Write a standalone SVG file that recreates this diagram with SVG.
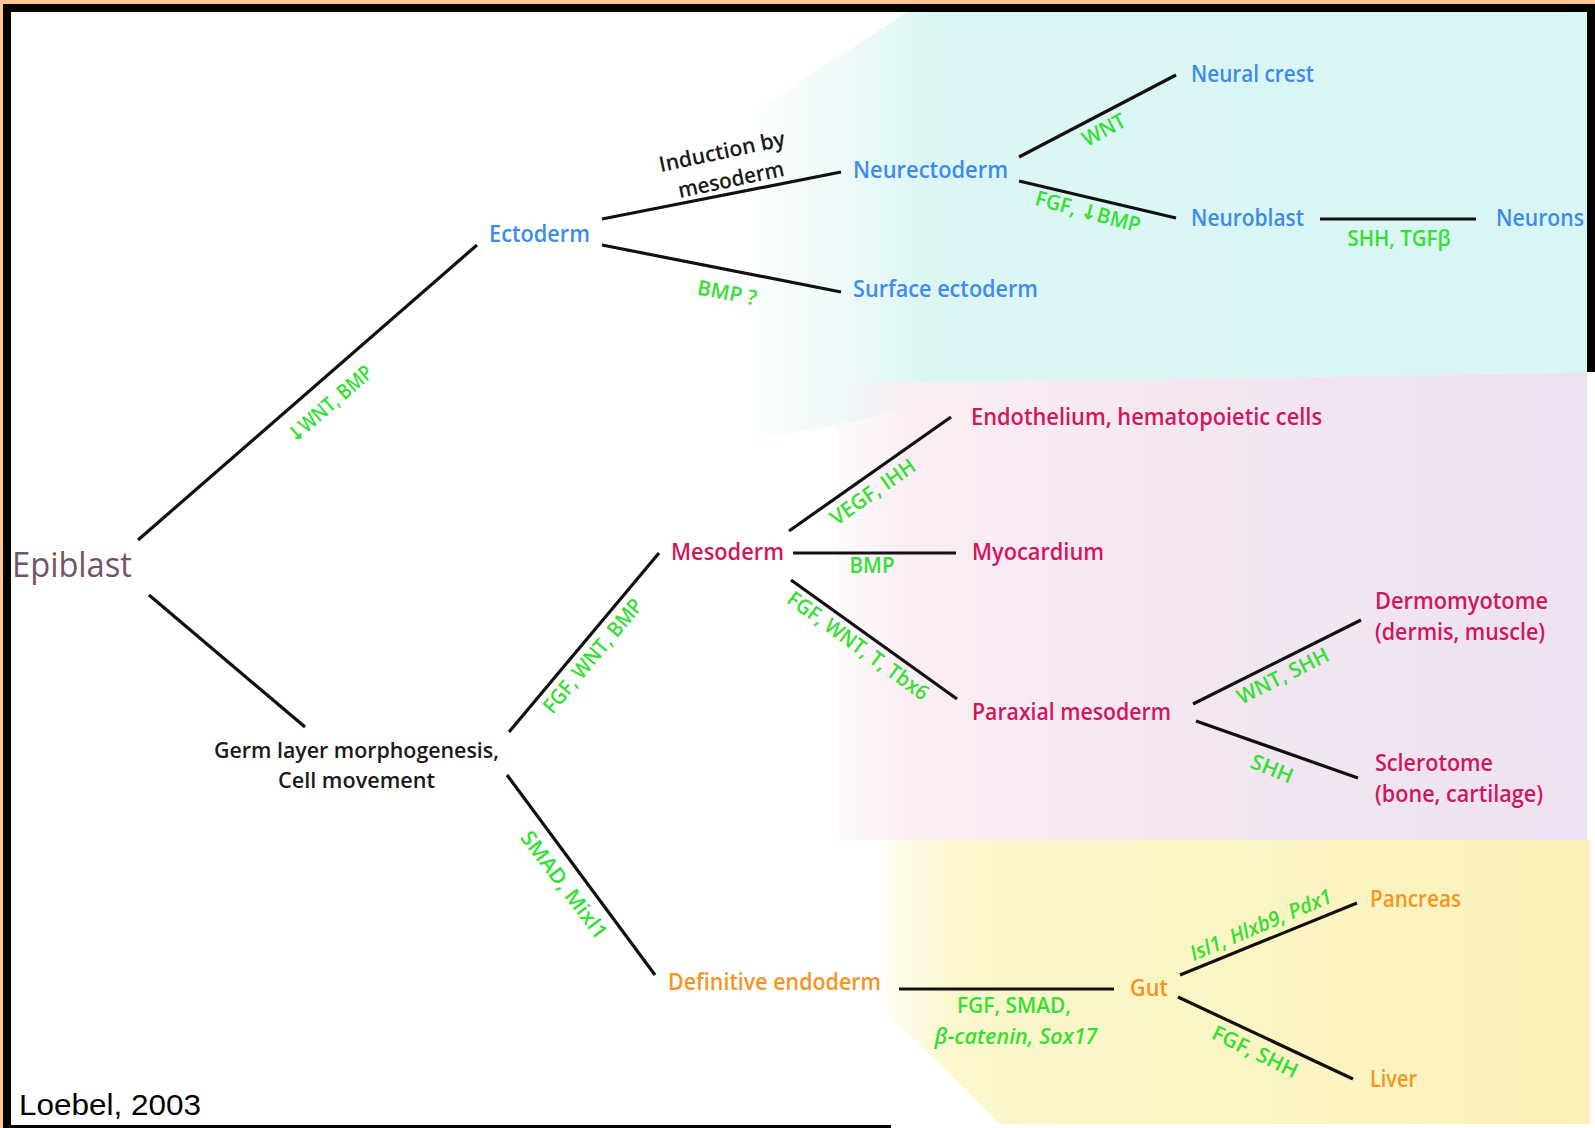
<svg xmlns="http://www.w3.org/2000/svg" width="1595" height="1128" viewBox="0 0 1595 1128">
<style>
text{font-family:"Open Sans","Noto Sans","DejaVu Sans",sans-serif;font-size:23px;font-weight:600}
.b{fill:#3D8BEB}
.m{fill:#D0175D}
.o{fill:#F7941E}
.k{fill:#1a1a1a;font-size:21.5px}
.g{fill:#33E033;font-size:21px}
.i{font-style:italic}
.c line{stroke:#111;stroke-width:3.2;fill:none}
</style>
<defs>
<linearGradient id="gc" gradientUnits="userSpaceOnUse" x1="757" y1="0" x2="1590" y2="0">
<stop offset="0" stop-color="#E6F8F6" stop-opacity="0.15"/>
<stop offset="0.2" stop-color="#DCF6F4" stop-opacity="1"/>
<stop offset="1" stop-color="#D8F6F5"/>
</linearGradient>
<linearGradient id="gp" gradientUnits="userSpaceOnUse" x1="830" y1="0" x2="1590" y2="0">
<stop offset="0" stop-color="#FAEEF4" stop-opacity="0.15"/>
<stop offset="0.1" stop-color="#FAEEF4" stop-opacity="1"/>
<stop offset="0.38" stop-color="#F7E8F1"/>
<stop offset="0.55" stop-color="#F2E6F1"/>
<stop offset="1" stop-color="#EDE2F1"/>
</linearGradient>
<linearGradient id="gy" gradientUnits="userSpaceOnUse" x1="870" y1="0" x2="1590" y2="0">
<stop offset="0" stop-color="#FCF8D4" stop-opacity="0.15"/>
<stop offset="0.12" stop-color="#FCF7CC" stop-opacity="1"/>
<stop offset="1" stop-color="#FAF2BA"/>
</linearGradient>
</defs>
<rect x="0" y="0" width="1595" height="1128" fill="#fff"/>
<!-- background regions -->
<polygon points="907,12 1587,12 1587,372 1000,382 860,420 757,440 757,110" fill="url(#gc)"/>
<polygon points="835,382 1000,382 1587,372 1587,840 835,840" fill="url(#gp)"/>
<polygon points="884,840 1590,840 1590,1124 1000,1124 884,1010" fill="url(#gy)"/>
<!-- frame -->
<rect x="0" y="0" width="1595" height="4" fill="#FFC890"/>
<rect x="0" y="0" width="3" height="1128" fill="#FFC890"/>
<rect x="3" y="4" width="1592" height="8" fill="#000"/>
<rect x="3" y="4" width="8" height="1124" fill="#000"/>
<rect x="11" y="1125" width="880" height="3" fill="#000"/>
<rect x="1587" y="4" width="8" height="368" fill="#000"/>

<g class="c" id="connectors">
<line x1="138" y1="540" x2="477" y2="245"/>
<line x1="149" y1="595" x2="305" y2="727"/>
<line x1="602" y1="219" x2="841" y2="172"/>
<line x1="602" y1="245" x2="841" y2="292"/>
<line x1="1019" y1="157" x2="1176" y2="75"/>
<line x1="1019" y1="181" x2="1176" y2="218"/>
<line x1="1320" y1="219" x2="1476" y2="219"/>
<line x1="509" y1="732" x2="659" y2="553"/>
<line x1="507" y1="775" x2="655" y2="975"/>
<line x1="789" y1="531" x2="951" y2="417"/>
<line x1="793" y1="553" x2="956" y2="553"/>
<line x1="791" y1="580" x2="957" y2="699"/>
<line x1="1193" y1="704" x2="1361" y2="620"/>
<line x1="1196" y1="721" x2="1358" y2="778"/>
<line x1="899" y1="989" x2="1114" y2="989"/>
<line x1="1180" y1="975" x2="1357" y2="903"/>
<line x1="1178" y1="997" x2="1353" y2="1079"/>
</g>

<g id="epiblast"><text x="12" y="577" style="font-size:35px;font-weight:400;fill:#735468" textLength="120" lengthAdjust="spacingAndGlyphs">Epiblast</text></g>
<g id="ectoderm"><text class="b" x="489" y="242" textLength="101" lengthAdjust="spacingAndGlyphs">Ectoderm</text></g>
<g id="neurectoderm"><text class="b" x="853" y="178" textLength="155" lengthAdjust="spacingAndGlyphs">Neurectoderm</text></g>
<g id="surface-ectoderm"><text class="b" x="853" y="297" textLength="185" lengthAdjust="spacingAndGlyphs">Surface ectoderm</text></g>
<g id="neural-crest"><text class="b" x="1191" y="82" textLength="123" lengthAdjust="spacingAndGlyphs">Neural crest</text></g>
<g id="neuroblast"><text class="b" x="1191" y="226" textLength="113" lengthAdjust="spacingAndGlyphs">Neuroblast</text></g>
<g id="neurons"><text class="b" x="1496" y="226" textLength="88" lengthAdjust="spacingAndGlyphs">Neurons</text></g>
<g id="germ"><text class="k" x="214" y="758" textLength="285" lengthAdjust="spacingAndGlyphs">Germ layer morphogenesis,</text><text class="k" x="278" y="788" textLength="157" lengthAdjust="spacingAndGlyphs">Cell movement</text></g>
<g id="mesoderm"><text class="m" x="671" y="560" textLength="113" lengthAdjust="spacingAndGlyphs">Mesoderm</text></g>
<g id="endothelium"><text class="m" x="971" y="425" textLength="351" lengthAdjust="spacingAndGlyphs">Endothelium, hematopoietic cells</text></g>
<g id="myocardium"><text class="m" x="972" y="560" textLength="132" lengthAdjust="spacingAndGlyphs">Myocardium</text></g>
<g id="paraxial"><text class="m" x="972" y="720" textLength="199" lengthAdjust="spacingAndGlyphs">Paraxial mesoderm</text></g>
<g id="dermomyotome"><text class="m" x="1375" y="609" textLength="173" lengthAdjust="spacingAndGlyphs">Dermomyotome</text><text class="m" x="1375" y="640" textLength="170" lengthAdjust="spacingAndGlyphs">(dermis, muscle)</text></g>
<g id="sclerotome"><text class="m" x="1375" y="771" textLength="118" lengthAdjust="spacingAndGlyphs">Sclerotome</text><text class="m" x="1375" y="802" textLength="168" lengthAdjust="spacingAndGlyphs">(bone, cartilage)</text></g>
<g id="definitive-endoderm"><text class="o" x="668" y="990" textLength="213" lengthAdjust="spacingAndGlyphs">Definitive endoderm</text></g>
<g id="gut"><text class="o" x="1130" y="996" textLength="38" lengthAdjust="spacingAndGlyphs">Gut</text></g>
<g id="pancreas"><text class="o" x="1370" y="907" textLength="91" lengthAdjust="spacingAndGlyphs">Pancreas</text></g>
<g id="liver"><text class="o" x="1370" y="1087" textLength="47" lengthAdjust="spacingAndGlyphs">Liver</text></g>

<g id="labels" text-anchor="middle">
<text class="k" transform="translate(722,152) rotate(-12)" y="7" textLength="128" lengthAdjust="spacingAndGlyphs">Induction by</text>
<text class="k" transform="translate(731,180) rotate(-12)" y="7" textLength="108" lengthAdjust="spacingAndGlyphs">mesoderm</text>
<text class="g" transform="translate(330,404) rotate(-41)" y="7" textLength="105" lengthAdjust="spacingAndGlyphs">↓WNT, BMP</text>
<text class="g" transform="translate(727,293) rotate(11)" y="7" textLength="60" lengthAdjust="spacingAndGlyphs">BMP ?</text>
<text class="g" transform="translate(1104,130) rotate(-28)" y="7" textLength="46" lengthAdjust="spacingAndGlyphs">WNT</text>
<text class="g" transform="translate(1088,212) rotate(15)" y="7" textLength="108" lengthAdjust="spacingAndGlyphs">FGF, ↓BMP</text>
<text class="g" x="1399" y="246" textLength="103" lengthAdjust="spacingAndGlyphs">SHH, TGFβ</text>
<text class="g" transform="translate(593,656) rotate(-50)" y="7" textLength="142" lengthAdjust="spacingAndGlyphs">FGF, WNT, BMP</text>
<text class="g" transform="translate(873,492) rotate(-35)" y="7" textLength="99" lengthAdjust="spacingAndGlyphs">VEGF, IHH</text>
<text class="g" x="872" y="573" textLength="45" lengthAdjust="spacingAndGlyphs">BMP</text>
<text class="g" transform="translate(858,646) rotate(36)" y="7" textLength="169" lengthAdjust="spacingAndGlyphs">FGF, WNT, T, Tbx6</text>
<text class="g" transform="translate(1283,676) rotate(-26.6)" y="7" textLength="100" lengthAdjust="spacingAndGlyphs">WNT, SHH</text>
<text class="g" transform="translate(1272,769) rotate(22)" y="7" textLength="44" lengthAdjust="spacingAndGlyphs">SHH</text>
<text class="g" transform="translate(564,885) rotate(53)" y="7" textLength="129" lengthAdjust="spacingAndGlyphs">SMAD, Mixl1</text>
<text class="g" x="1014" y="1013" textLength="114" lengthAdjust="spacingAndGlyphs">FGF, SMAD,</text>
<text class="g i" x="1016" y="1044" textLength="163" lengthAdjust="spacingAndGlyphs">β-catenin, Sox17</text>
<text class="g i" transform="translate(1261,925) rotate(-23)" y="7" textLength="152" lengthAdjust="spacingAndGlyphs">Isl1, Hlxb9, Pdx1</text>
<text class="g" transform="translate(1255,1052) rotate(26)" y="7" textLength="93" lengthAdjust="spacingAndGlyphs">FGF, SHH</text>
</g>
<text x="19" y="1115" style="font-family:'Liberation Sans',Arial,sans-serif;font-size:30px;font-weight:400;fill:#000" textLength="182" lengthAdjust="spacingAndGlyphs">Loebel, 2003</text>
</svg>
